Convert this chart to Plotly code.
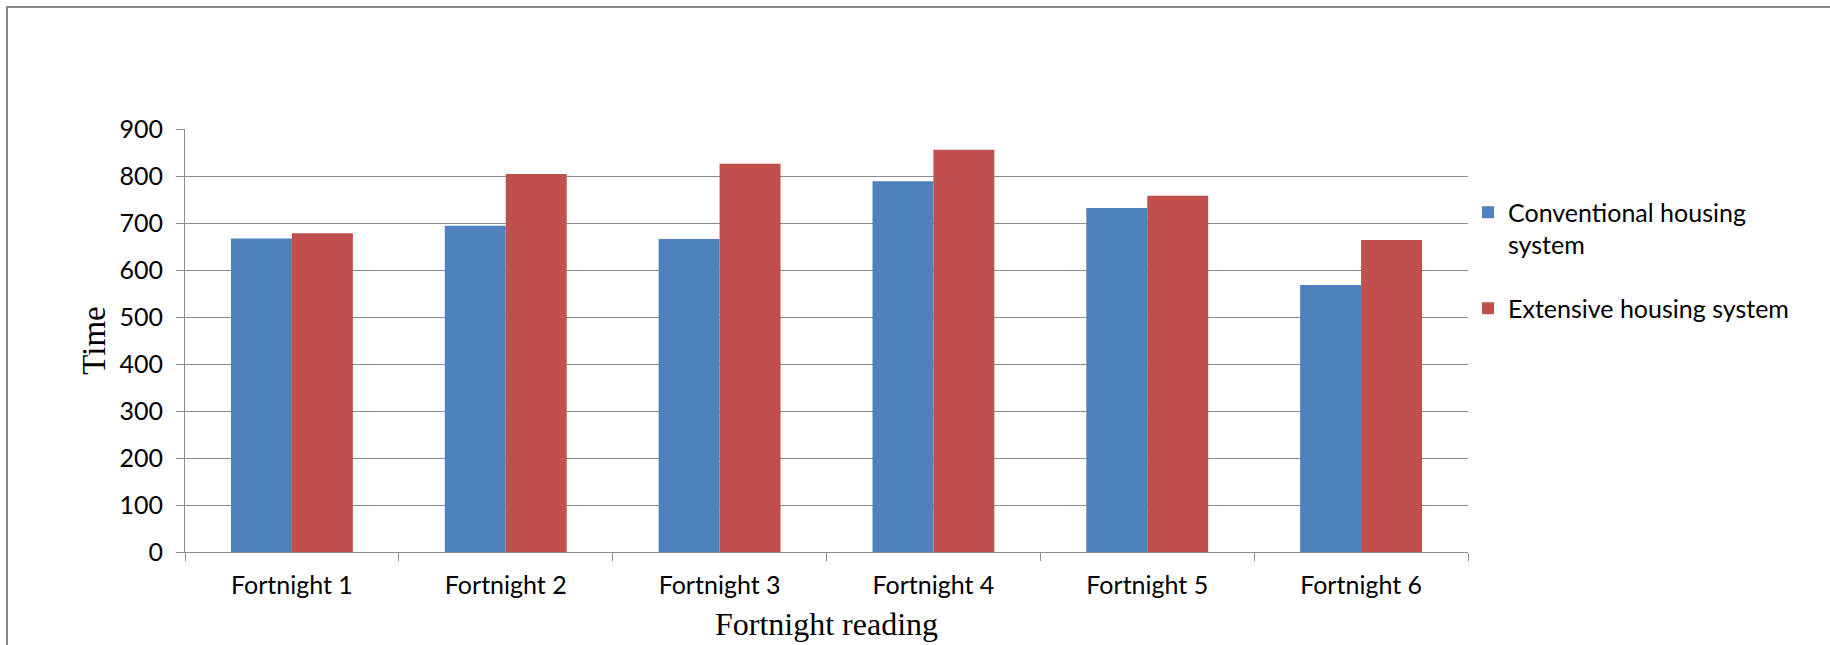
import plotly.graph_objects as go

categories = ["Fortnight 1", "Fortnight 2", "Fortnight 3", "Fortnight 4", "Fortnight 5", "Fortnight 6"]
conventional = [667, 694, 666, 789, 732, 568]
extensive = [678, 804, 826, 856, 758, 664]
series_names = ["Conventional housing<br>system", "Extensive housing system"]
y_ticks = [0, 100, 200, 300, 400, 500, 600, 700, 800, 900]

W, H = 1830, 645
L, R, T, B = 185, 1468, 129, 552

fig = go.Figure()
fig.add_trace(go.Bar(x=categories, y=conventional, name=series_names[0],
                     marker=dict(color="#4F81BD", line=dict(width=0)), legendgroup="a"))
fig.add_trace(go.Bar(x=categories, y=extensive, name=series_names[1],
                     marker=dict(color="#C0504D", line=dict(width=0)), legendgroup="b"))

tick_font = dict(family="Lato, 'Noto Sans', sans-serif", size=25, color="#000000")
serif = "'Liberation Serif', 'Times New Roman', serif"
grid = "#8C8C8C"

fig.update_layout(
    width=W, height=H,
    margin=dict(l=L, r=W - R, t=T, b=H - B, pad=0, autoexpand=False),
    paper_bgcolor="white", plot_bgcolor="white",
    barmode="group", bargap=0.43, bargroupgap=0,
    showlegend=True,
    legend=dict(x=1.0, xanchor="left", y=0.857, yanchor="top",
                font=tick_font, bgcolor="rgba(0,0,0,0)", valign="top",
                tracegroupgap=28, itemwidth=30, traceorder="grouped"),
    xaxis=dict(
        type="category", showgrid=False, showline=True, linecolor=grid, linewidth=1,
        ticks="outside", ticklen=8, tickcolor=grid, tickwidth=1, tickson="boundaries",
        tickfont=tick_font, ticklabelstandoff=11, automargin=False,
        title=dict(text="Fortnight reading",
                   font=dict(family=serif, size=32, color="#000000"),
                   standoff=14),
    ),
    yaxis=dict(
        range=[0, 900], tickvals=y_ticks, showgrid=True, gridcolor=grid, gridwidth=1,
        showline=True, linecolor=grid, linewidth=1, zeroline=False,
        ticks="outside", ticklen=8, tickcolor=grid, tickwidth=1,
        tickfont=tick_font, ticklabelstandoff=8, automargin=False,
        title=dict(text="Time",
                   font=dict(family=serif, size=33, color="#000000"),
                   standoff=3),
    ),
    shapes=[dict(type="rect", xref="paper", yref="paper",
                 x0=(7 - L) / (R - L), x1=(1900 - L) / (R - L),
                 y0=(B - 700) / (B - T), y1=(B - 7) / (B - T),
                 line=dict(color="#888888", width=2), fillcolor="rgba(0,0,0,0)", layer="below")],
)

fig.write_html("out.html")
